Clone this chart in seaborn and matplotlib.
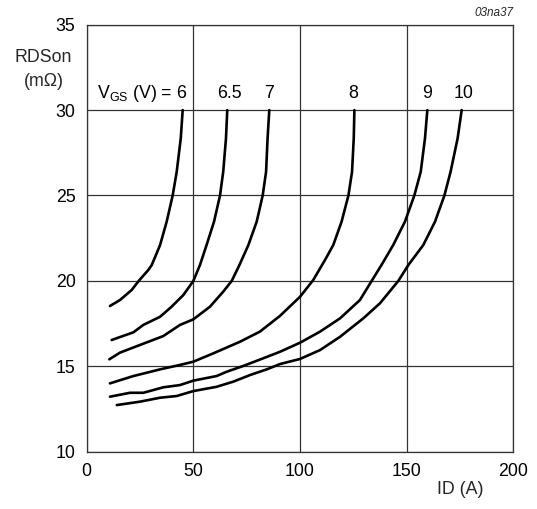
import matplotlib
matplotlib.use("Agg")
import matplotlib.pyplot as plt
import seaborn as sns
import pandas as pd

# ---- data ----
vgs_levels = ["6", "6.5", "7", "8", "9", "10"]

id_6 = [10.9, 15.6, 21.1, 24.4, 28.9, 30.5, 34.4, 37.5, 40.3, 42.2, 44.1, 45.0]
rds_6 = [18.53, 18.88, 19.47, 20.0, 20.64, 20.93, 22.1, 23.47, 25.0, 26.39, 28.35, 30.0]

id_65 = [11.7, 21.9, 26.5, 34.4, 39.8, 45.3, 50.0, 53.1, 56.2, 59.7, 62.5, 64.0, 65.3, 65.9]
rds_65 = [16.54, 16.99, 17.42, 17.9, 18.49, 19.17, 20.0, 20.93, 22.1, 23.47, 25.0, 26.39, 28.35, 30.0]

id_7 = [10.6, 15.6, 25.0, 35.9, 43.7, 50.0, 57.8, 64.0, 68.0, 71.6, 75.8, 79.7, 82.5, 84.1, 84.8, 85.6]
rds_7 = [15.41, 15.8, 16.25, 16.77, 17.42, 17.75, 18.49, 19.37, 20.0, 20.93, 22.1, 23.47, 25.0, 26.39, 28.35, 30.0]

id_8 = [10.9, 21.9, 34.4, 43.7, 50.0, 59.4, 71.9, 81.2, 90.6, 100.0, 106.2, 111.7, 115.6, 119.5, 122.7, 124.4, 125.2, 125.5]
rds_8 = [14.0, 14.43, 14.82, 15.08, 15.27, 15.76, 16.44, 17.03, 17.95, 19.07, 20.05, 21.22, 22.1, 23.47, 25.0, 26.39, 28.35, 30.0]

id_9 = [10.9, 20.3, 26.6, 35.9, 43.7, 50.0, 60.9, 65.6, 73.4, 82.8, 90.6, 100.0, 109.4, 118.8, 128.1, 133.6, 138.2, 143.7, 149.2, 153.6, 156.6, 158.6, 159.7]
rds_9 = [13.22, 13.45, 13.45, 13.77, 13.9, 14.16, 14.43, 14.68, 15.02, 15.47, 15.85, 16.38, 17.03, 17.81, 18.88, 20.0, 20.93, 22.1, 23.47, 25.0, 26.39, 28.35, 30.0]

id_10 = [14.1, 25.0, 34.4, 42.2, 50.0, 60.9, 68.7, 76.6, 84.4, 90.6, 100.0, 109.4, 118.8, 129.7, 137.5, 146.1, 150.8, 157.8, 163.3, 167.7, 170.6, 173.9, 175.8]
rds_10 = [12.73, 12.93, 13.16, 13.26, 13.55, 13.8, 14.1, 14.49, 14.82, 15.13, 15.43, 15.95, 16.73, 17.81, 18.69, 20.0, 20.93, 22.1, 23.47, 25.0, 26.39, 28.35, 30.0]

x_ticks = [0, 50, 100, 150, 200]
y_ticks = [10, 15, 20, 25, 30, 35]

# ---- build long-form table ----
series = [id_6, id_65, id_7, id_8, id_9, id_10]
values = [rds_6, rds_65, rds_7, rds_8, rds_9, rds_10]
rows = []
for lvl, xs, ys in zip(vgs_levels, series, values):
    for x, y in zip(xs, ys):
        rows.append({"ID": x, "RDSon": y, "VGS": lvl})
df = pd.DataFrame(rows)

sns.set_theme(style="white")
plt.rcParams["font.family"] = ["Liberation Sans", "DejaVu Sans"]
plt.rcParams["mathtext.fontset"] = "custom"
plt.rcParams["mathtext.rm"] = "Liberation Sans"

fig = plt.figure(figsize=(5.37, 5.09), dpi=100)
ax = fig.add_axes([86.7 / 537, 1 - 451.7 / 509, (513.3 - 86.7) / 537, (451.7 - 24.7) / 509])

sns.lineplot(data=df, x="ID", y="RDSon", hue="VGS", units="VGS", estimator=None,
             palette=["black"] * len(vgs_levels), linewidth=1.9, legend=False,
             sort=False, ax=ax)
for ln in ax.get_lines():
    ln.set_solid_joinstyle("round")
    ln.set_solid_capstyle("round")

ax.set_xlim(0, 200)
ax.set_ylim(10, 35)
ax.set_xticks(x_ticks)
ax.set_yticks(y_ticks)
ax.set_xticklabels([str(t) for t in x_ticks])
ax.set_yticklabels([str(t) for t in y_ticks])
ax.tick_params(axis="both", length=0, pad=8, labelsize=12.8, colors="black")
ax.grid(True, color="#333333", linewidth=0.9)
ax.set_axisbelow(True)
for s in ax.spines.values():
    s.set_color("#333333")
    s.set_linewidth(0.9)
ax.set_xlabel("")
ax.set_ylabel("")

# curve labels
label_x = [47, 66.8, 85.6, 125, 159.4, 176.6]
label_text = [r"V$_{\mathregular{GS}}$ (V) = 6", "6.5", "7", "8", "9", "10"]
for i, (lx, txt) in enumerate(zip(label_x, label_text)):
    ax.text(lx, 30.95, txt, ha="right" if i == 0 else "center", va="center",
            fontsize=12.8, color="black")

fig.text(43.5 / 537, 1 - 57 / 509, "RDSon", ha="center", va="center", fontsize=12.8)
fig.text(43.5 / 537, 1 - 81 / 509, "(m\u03a9)", ha="center", va="center", fontsize=12.8)
fig.text(460 / 537, 1 - 490 / 509, "ID (A)", ha="center", va="center", fontsize=12.8)
fig.text(513 / 537, 1 - 13 / 509, "03na37", ha="right", va="center", fontsize=8.5,
         style="italic")

fig.savefig("out.png", dpi=100, facecolor="white")
